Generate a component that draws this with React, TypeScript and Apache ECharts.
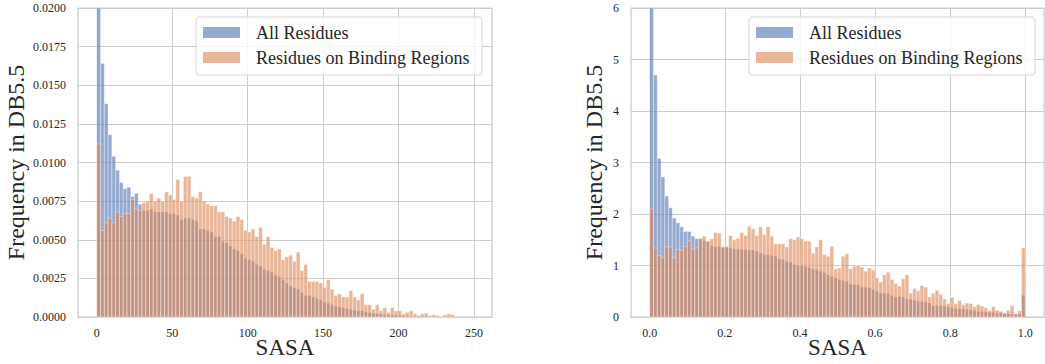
import React, { useEffect, useRef } from 'react';
import * as echarts from 'echarts';

// ---------- data ----------
const seriesNames = ['All Residues', 'Residues on Binding Regions'];
const binCount = 100;
const sasaRange = [0, 249.5];
const rsaRange = [0, 1.0];

const sasaXTicks = [0, 50, 100, 150, 200, 250];
const rsaXTicks = [0, 0.2, 0.4, 0.6, 0.8, 1.0];

// Left panel: absolute SASA histogram (density)
const sasaAll = [
  0.0235, 0.0164, 0.0138, 0.0118, 0.0104, 0.0095, 0.0087, 0.0083, 0.0084, 0.0078,
  0.0080, 0.0073, 0.0069, 0.0069, 0.0070, 0.0068, 0.0068, 0.0068, 0.0068, 0.0067,
  0.0067, 0.0066, 0.0063, 0.0064, 0.0064, 0.0063, 0.0062, 0.0057, 0.0057, 0.0056,
  0.0055, 0.0052, 0.0052, 0.0049, 0.0048, 0.0046, 0.0044, 0.0043, 0.0041, 0.0038,
  0.0037, 0.0036, 0.0034, 0.0033, 0.0031, 0.0030, 0.0029, 0.0027, 0.0026, 0.0024,
  0.0022, 0.0020, 0.0019, 0.0018, 0.0016, 0.0014, 0.0014, 0.0013, 0.0012, 0.0011,
  0.00095, 0.0009, 0.0008, 0.0007, 0.00067, 0.0006, 0.00056, 0.0005, 0.00045, 0.0004,
  0.0004, 0.00032, 0.00028, 0.00024, 0.00022, 0.0002, 0.00017, 0.00015, 0.00013, 0.00012,
  0.0001, 0.00009, 0.00008, 0.00007, 0.00006, 0.00005, 0.00005, 0.00004, 0.00003, 0.00003,
  0.00002, 0.00002, 0.00002, 0.00001, 0.00001, 0, 0, 0, 0, 0,
];
const sasaBinding = [
  0.0112, 0.0056, 0.0061, 0.0064, 0.0061, 0.0068, 0.0065, 0.0067, 0.0067, 0.0076,
  0.0070, 0.0069, 0.0074, 0.0075, 0.0080, 0.0075, 0.0077, 0.0075, 0.0081, 0.0079,
  0.0076, 0.0089, 0.0075, 0.0091, 0.0091, 0.0078, 0.0077, 0.0081, 0.0075, 0.0073,
  0.0072, 0.0072, 0.0068, 0.0068, 0.0065, 0.0064, 0.0062, 0.0065, 0.0063, 0.0056,
  0.0055, 0.0057, 0.0052, 0.0058, 0.0047, 0.0052, 0.0045, 0.0043, 0.0044, 0.0037,
  0.0039, 0.0040, 0.0036, 0.0042, 0.0030, 0.0034, 0.0023, 0.0023, 0.0023, 0.0022,
  0.0019, 0.0024, 0.0018, 0.0014, 0.0015, 0.0013, 0.0013, 0.0017, 0.0013, 0.0011,
  0.0015, 0.0008, 0.0008, 0.0005, 0.0008, 0.0004, 0.0006, 0.0003, 0.0006, 0.0004,
  0.0004, 0.0002, 0.0003, 0.0004, 0.0002, 0.0001, 0.0002, 0.00025, 0.0001, 0.00015,
  0.0001, 0, 0.00015, 0.0002, 0.00015, 0, 0, 0, 0, 0,
];

// Right panel: relative SASA histogram (density)
const rsaAll = [
  6.6, 4.7, 3.08, 2.72, 2.35, 2.12, 1.92, 1.83, 1.75, 1.66,
  1.66, 1.57, 1.52, 1.52, 1.48, 1.47, 1.39, 1.36, 1.37, 1.34,
  1.37, 1.34, 1.32, 1.32, 1.31, 1.31, 1.30, 1.30, 1.28, 1.24,
  1.21, 1.21, 1.19, 1.18, 1.13, 1.12, 1.08, 1.06, 1.02, 1.00,
  1.00, 0.98, 0.96, 0.93, 0.92, 0.89, 0.86, 0.82, 0.79, 0.76,
  0.73, 0.71, 0.69, 0.64, 0.63, 0.63, 0.58, 0.58, 0.57, 0.53,
  0.50, 0.47, 0.46, 0.46, 0.42, 0.39, 0.40, 0.39, 0.35, 0.34,
  0.33, 0.31, 0.30, 0.29, 0.27, 0.22, 0.22, 0.22, 0.21, 0.20,
  0.18, 0.16, 0.16, 0.16, 0.15, 0.14, 0.13, 0.11, 0.11, 0.10,
  0.09, 0.09, 0.08, 0.08, 0.07, 0.07, 0.06, 0.055, 0.05, 0.42,
];
const rsaBinding = [
  2.10, 1.34, 1.19, 1.15, 1.36, 1.36, 1.15, 1.31, 1.29, 1.37,
  1.48, 1.32, 1.34, 1.52, 1.57, 1.47, 1.52, 1.64, 1.63, 1.37,
  1.36, 1.58, 1.50, 1.53, 1.64, 1.58, 1.76, 1.71, 1.58, 1.75,
  1.60, 1.75, 1.57, 1.42, 1.42, 1.42, 1.36, 1.52, 1.50, 1.55,
  1.52, 1.47, 1.47, 1.24, 1.36, 1.50, 1.21, 1.18, 1.37, 0.93,
  0.95, 1.18, 1.23, 0.94, 0.98, 1.00, 0.97, 0.89, 0.95, 0.91,
  0.76, 0.68, 0.82, 0.87, 0.73, 0.65, 0.60, 0.74, 0.82, 0.46,
  0.55, 0.51, 0.61, 0.58, 0.39, 0.46, 0.52, 0.44, 0.35, 0.26,
  0.38, 0.26, 0.32, 0.24, 0.27, 0.26, 0.20, 0.24, 0.21, 0.18,
  0.13, 0.20, 0.13, 0.11, 0.08, 0.13, 0.22, 0.06, 0.12, 1.34,
];

// ---------- style ----------
const FONT = 'Liberation Serif, serif';
const TEXT_COLOR = '#262626';
const GRID_COLOR = '#cccccc';
const BLUE = 'rgba(76,114,176,0.6)';
const ORANGE = 'rgba(221,132,82,0.6)';
const EDGE = 'rgba(255,255,255,0.6)';

function toBins(values: number[], range: number[]) {
  const w = (range[1] - range[0]) / binCount;
  return values.map((v, i) => [range[0] + i * w, range[0] + (i + 1) * w, v]);
}

function makeRender(fill: string) {
  return (params: any, api: any) => {
    const x0 = api.value(0);
    const x1 = api.value(1);
    const v = api.value(2);
    if (!v) return null;
    const p0 = api.coord([x0, v]);
    const p1 = api.coord([x1, 0]);
    const rect = echarts.graphic.clipRectByRect(
      { x: p0[0], y: p0[1], width: p1[0] - p0[0], height: p1[1] - p0[1] },
      params.coordSys
    );
    if (!rect) return null;
    return {
      type: 'rect',
      shape: rect,
      style: { fill, stroke: EDGE, lineWidth: 0.6 },
    };
  };
}

function histSeries(name: string, values: number[], range: number[], idx: number, fill: string) {
  return {
    type: 'custom',
    name,
    xAxisIndex: idx,
    yAxisIndex: idx,
    renderItem: makeRender(fill),
    encode: { x: [0, 1], y: 2 },
    data: toBins(values, range),
    silent: true,
  };
}

function legendGraphic(x: number, y: number) {
  return {
    type: 'group',
    x,
    y,
    z: 100,
    children: [
      {
        type: 'rect',
        z: 100,
        shape: { x: 0, y: 0, width: 286, height: 58, r: 3 },
        style: { fill: 'rgba(255,255,255,0.8)', stroke: '#d6d6d6', lineWidth: 1 },
      },
      { type: 'rect', z: 101, shape: { x: 7, y: 10, width: 37, height: 11 }, style: { fill: BLUE } },
      { type: 'rect', z: 101, shape: { x: 7, y: 35, width: 37, height: 11 }, style: { fill: ORANGE } },
      {
        type: 'text',
        z: 101,
        x: 60,
        y: 15.5,
        style: { text: seriesNames[0], fontFamily: FONT, fontSize: 18, fill: TEXT_COLOR, verticalAlign: 'middle' },
      },
      {
        type: 'text',
        z: 101,
        x: 60,
        y: 40.5,
        style: { text: seriesNames[1], fontFamily: FONT, fontSize: 18, fill: TEXT_COLOR, verticalAlign: 'middle' },
      },
    ],
  };
}

const labelStyle = { fontFamily: FONT, fontSize: 12, color: TEXT_COLOR };
const nameStyle = { fontFamily: FONT, fontSize: 24, color: TEXT_COLOR };
const xNameStyle = { fontFamily: FONT, fontSize: 23, color: TEXT_COLOR };

export default function App() {
  const ref = useRef<HTMLDivElement>(null);
  useEffect(() => {
    if (!ref.current) return;
    const chart = echarts.init(ref.current, undefined, { renderer: 'svg' });
    const sasaMargin = (sasaRange[1] - sasaRange[0]) * 0.05;
    const rsaMargin = (rsaRange[1] - rsaRange[0]) * 0.05;
    const baseX = {
      type: 'value',
      axisLine: { show: false },
      splitLine: { show: true, lineStyle: { color: GRID_COLOR, width: 1 } },
      name: 'SASA',
      nameLocation: 'middle',
      nameGap: 19,
      nameMoveOverlap: false,
      nameTextStyle: xNameStyle,
    };
    const baseY = {
      type: 'value',
      axisLine: { show: false },
      axisTick: { show: false },
      splitLine: { show: true, lineStyle: { color: GRID_COLOR, width: 1 } },
      name: 'Frequency in DB5.5',
      nameLocation: 'middle',
      nameRotate: 90,
      nameMoveOverlap: false,
      nameTextStyle: nameStyle,
    };
    const gridBase = {
      top: 8,
      height: 309,
      show: true,
      borderColor: GRID_COLOR,
      borderWidth: 1.25,
      backgroundColor: 'transparent',
      containLabel: false,
      outerBoundsMode: 'none',
    };
    chart.setOption({
      animation: false,
      backgroundColor: '#ffffff',
      textStyle: { fontFamily: FONT },
      grid: [
        { ...gridBase, left: 78, width: 414 },
        { ...gridBase, left: 631, width: 413 },
      ],
      xAxis: [
        {
          ...baseX,
          gridIndex: 0,
          min: sasaRange[0] - sasaMargin,
          max: sasaRange[1] + sasaMargin,
          axisTick: { show: false, customValues: sasaXTicks },
          axisLabel: { ...labelStyle, margin: 10, customValues: sasaXTicks, formatter: (v: number) => String(v) },
        },
        {
          ...baseX,
          gridIndex: 1,
          min: rsaRange[0] - rsaMargin,
          max: rsaRange[1] + rsaMargin,
          axisTick: { show: false, customValues: rsaXTicks },
          axisLabel: { ...labelStyle, margin: 10, customValues: rsaXTicks, formatter: (v: number) => v.toFixed(1) },
        },
      ],
      yAxis: [
        {
          ...baseY,
          gridIndex: 0,
          min: 0,
          max: 0.02,
          interval: 0.0025,
          nameGap: 50,
          axisLabel: { ...labelStyle, margin: 12, formatter: (v: number) => v.toFixed(4) },
        },
        {
          ...baseY,
          gridIndex: 1,
          min: 0,
          max: 6,
          interval: 1,
          nameGap: 25,
          axisLabel: { ...labelStyle, margin: 12, formatter: (v: number) => String(v) },
        },
      ],
      series: [
        histSeries(seriesNames[0], sasaAll, sasaRange, 0, BLUE),
        histSeries(seriesNames[1], sasaBinding, sasaRange, 0, ORANGE),
        histSeries(seriesNames[0], rsaAll, rsaRange, 1, BLUE),
        histSeries(seriesNames[1], rsaBinding, rsaRange, 1, ORANGE),
      ],
      graphic: [legendGraphic(196, 17), legendGraphic(749, 17)],
    });
    return () => chart.dispose();
  }, []);
  return (
    <div
      ref={ref}
      style={{ position: 'absolute', left: 0, top: 0, width: 1045, height: 364 }}
    />
  );
}
